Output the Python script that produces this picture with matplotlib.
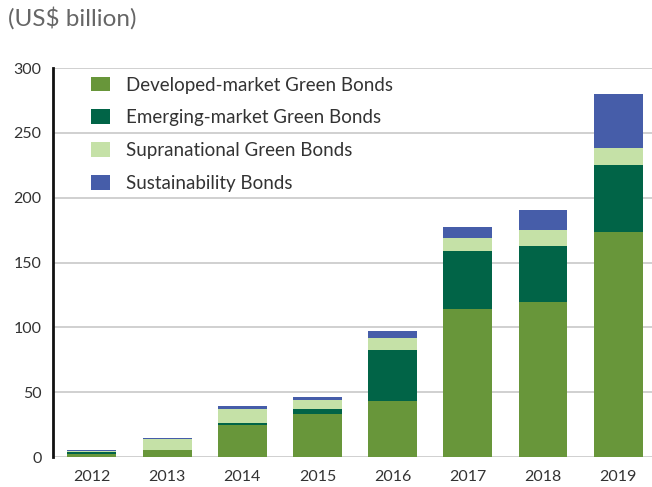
import numpy as np
import matplotlib
matplotlib.use("Agg")
import matplotlib.pyplot as plt

plt.rcParams['font.family'] = ['Lato', 'DejaVu Sans']

years = ['2012', '2013', '2014', '2015', '2016', '2017', '2018', '2019']
developed = [2.1, 5.1, 24.9, 32.9, 42.9, 114.3, 119.7, 173.7]
emerging = [1.5, 0.2, 1.0, 4.4, 39.8, 44.8, 43.2, 51.7]
supranational = [0.8, 8.7, 11.3, 6.9, 9.3, 10.0, 12.4, 13.1]
sustainability = [0.8, 0.5, 2.3, 2.3, 5.4, 8.5, 15.4, 41.6]

series = [
    ('Developed-market Green Bonds', developed, '#68963a'),
    ('Emerging-market Green Bonds', emerging, '#016447'),
    ('Supranational Green Bonds', supranational, '#c5e1a7'),
    ('Sustainability Bonds', sustainability, '#465da9'),
]

fig = plt.figure(figsize=(6.52, 4.87), dpi=100)
ax = fig.add_axes([0.081, 0.0616, 0.919, 0.7984])

x = np.arange(len(years))
bottom = np.zeros(len(years))
for name, vals, col in series:
    ax.bar(x, vals, width=0.65, bottom=bottom, color=col, label=name, zorder=3)
    bottom += np.array(vals)

ax.set_ylim(0, 300)
ax.set_xlim(-0.52, 7.45)
ax.set_yticks(range(0, 301, 50))
ax.set_xticks(x)
ax.set_xticklabels(years)
ax.yaxis.grid(True, color='#c8c8c8', linewidth=1.2, zorder=0)
ax.tick_params(length=0, labelsize=11.5, labelcolor='#333333')
ax.tick_params(axis='x', pad=9)
ax.tick_params(axis='y', pad=8)
for s in ['top', 'right', 'bottom']:
    ax.spines[s].set_visible(False)
ax.spines['left'].set_linewidth(2)
ax.spines['left'].set_color('#111111')
ax.spines['left'].set_zorder(4)

leg = ax.legend(loc='upper left', bbox_to_anchor=(0.035, 1.022), frameon=False,
                fontsize=13.5, handlelength=1.05, handleheight=0.85,
                handletextpad=0.85, labelspacing=0.85, labelcolor='#333333')

fig.text(0.012, 0.962, '(US$ billion)', fontsize=17.5, color='#666666',
         va='center', ha='left')

fig.savefig('out.png', dpi=100)
